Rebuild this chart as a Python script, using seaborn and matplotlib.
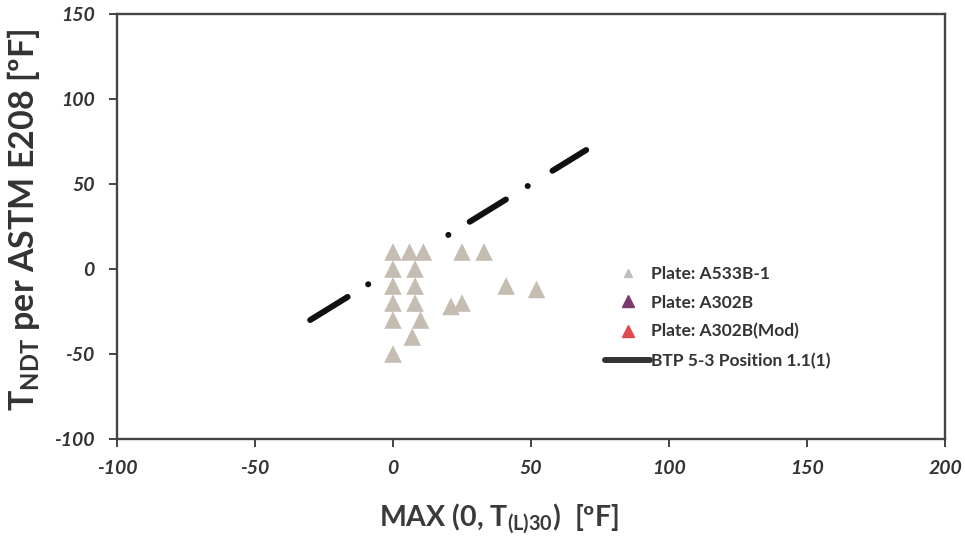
import matplotlib
matplotlib.use("Agg")
import matplotlib.pyplot as plt
from matplotlib.lines import Line2D
import seaborn as sns
import pandas as pd

# ---- data ----
a533_x = [0, 6, 11, 25, 33, 0, 8, 0, 8, 41, 52, 0, 8, 21, 25, 0, 10, 7, 0]
a533_y = [10, 10, 10, 10, 10, 0, 0, -10, -10, -10, -12, -20, -20, -22, -20, -30, -30, -40, -50]
btp_x = [-30, 70]
btp_y = [-30, 70]
legend_labels = ["Plate: A533B-1", "Plate: A302B", "Plate: A302B(Mod)", "BTP 5-3 Position 1.1(1)"]
x_ticks = [-100, -50, 0, 50, 100, 150, 200]
y_ticks = [-100, -50, 0, 50, 100, 150]

sns.set_theme(style="white")
plt.rcParams["font.family"] = ["Lato", "DejaVu Sans"]
plt.rcParams["mathtext.fontset"] = "custom"
plt.rcParams["mathtext.rm"] = "Lato:bold"
plt.rcParams["mathtext.bf"] = "Lato:bold"
plt.rcParams["lines.scale_dashes"] = False
plt.rcParams["axes.unicode_minus"] = False

fig = plt.figure(figsize=(9.65, 5.39), dpi=100)
ax = fig.add_axes([0.1212, 0.1855, 0.8581, 0.7885])

tri_color = "#c5bcb2"
df = pd.DataFrame({"x": a533_x, "y": a533_y})
sns.scatterplot(data=df, x="x", y="y", marker="^", color=tri_color, s=160,
                edgecolor="none", ax=ax, zorder=3)

line_df = pd.DataFrame({"x": btp_x, "y": btp_y})
sns.lineplot(data=line_df, x="x", y="y", color="#111111", linewidth=4.3, ax=ax, zorder=2)
ln = ax.get_lines()[-1]
ln.set_linestyle((0, (31.7, 17.3, 0.1, 67.7, 0.1, 18, 30.6, 18.4, 0.1, 20.9, 28.8, 60)))
ln.set_dash_capstyle("round")

ax.set_xlim(-100, 200)
ax.set_ylim(-100, 150)
ax.set_xticks(x_ticks)
ax.set_yticks(y_ticks)
ax.tick_params(axis="both", which="major", bottom=True, left=True, direction="out",
               length=6, width=1.4, color="#444444",
               labelsize=14, labelcolor="#333333", pad=10)
ax.tick_params(axis="x", pad=9)
for lab in ax.get_xticklabels() + ax.get_yticklabels():
    lab.set_fontweight("bold")
    lab.set_fontstyle("italic")
for sp in ax.spines.values():
    sp.set_color("#444444")
    sp.set_linewidth(1.7)

ax.set_xlabel(r"MAX (0, T$_{\mathrm{(L)30}}$)  [ºF]", fontsize=20.5, fontweight="bold",
              color="#3a3a3a")
ax.xaxis.set_label_coords(0.461, -0.146)
ax.set_ylabel(r"T$_{\mathrm{NDT}}$ per ASTM E208 [ºF]", fontsize=24.5, fontweight="bold",
              color="#333333")
ax.yaxis.set_label_coords(-0.090, 0.515)

handles = [
    Line2D([], [], marker="^", linestyle="none", color="#c0c0c0", markersize=6),
    Line2D([], [], marker="^", linestyle="none", color="#7a3b6c", markersize=8),
    Line2D([], [], marker="^", linestyle="none", color="#e04a4f", markersize=8),
    Line2D([], [], color="#333333", linewidth=4.3, solid_capstyle="round"),
]
leg = ax.legend(handles, legend_labels, loc="upper left", bbox_to_anchor=(0.611, 0.536),
                bbox_transform=fig.transFigure, frameon=False, fontsize=12.5,
                handlelength=2.6, handletextpad=0.05, labelspacing=0.74)
for t in leg.get_texts():
    t.set_fontweight("bold")
    t.set_color("#333333")

fig.savefig("out.png", dpi=100, facecolor="white")
